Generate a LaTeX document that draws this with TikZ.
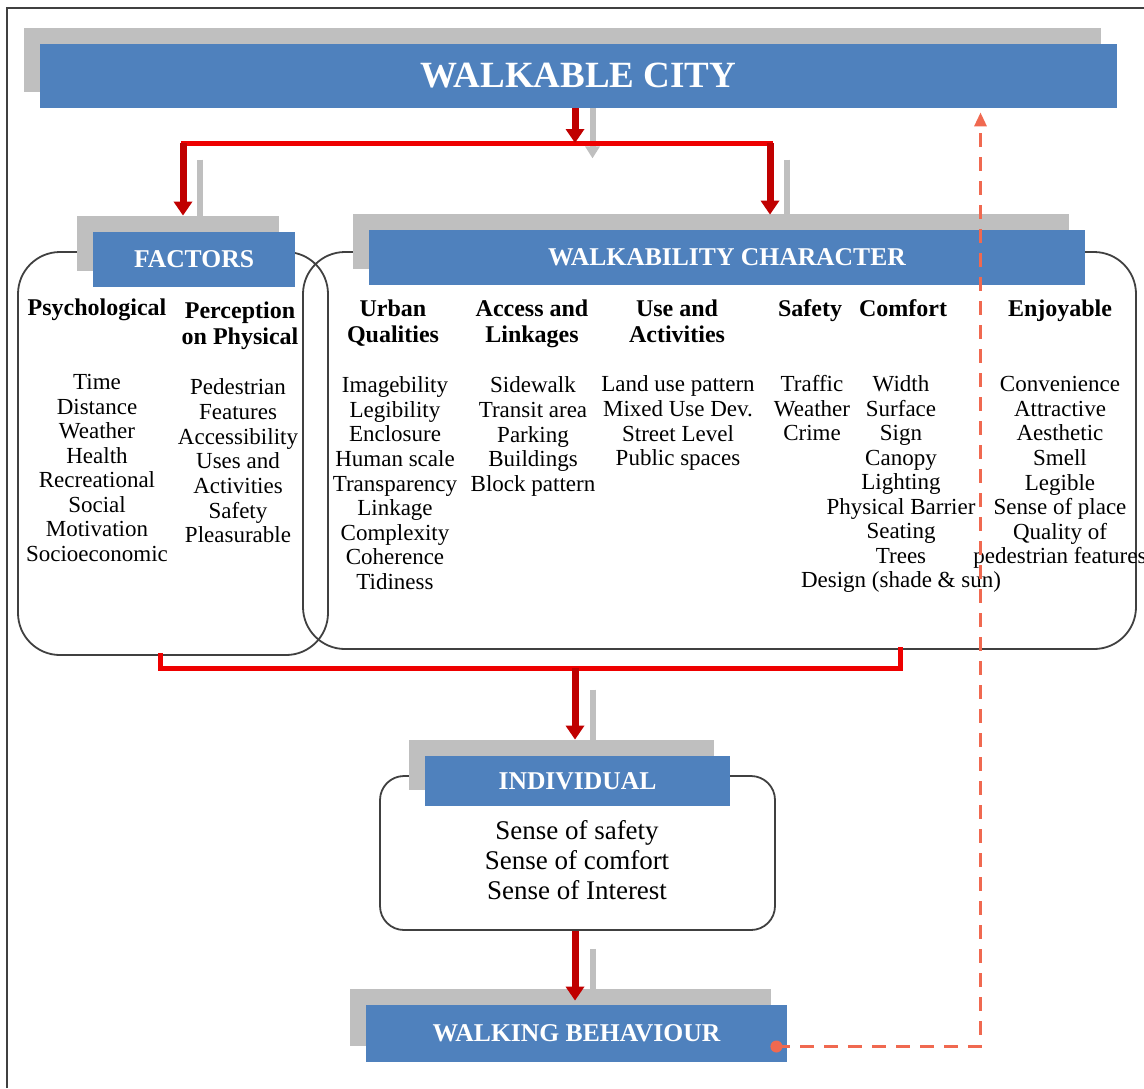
\documentclass[tikz,border=0pt]{standalone}
\usepackage{fontspec}
\setmainfont{Liberation Serif}
\usetikzlibrary{arrows.meta,shadows}
\definecolor{boxblue}{RGB}{79,129,189}
\definecolor{shadegray}{RGB}{191,191,191}
\definecolor{linered}{RGB}{238,0,0}
\definecolor{arrowred}{RGB}{192,0,0}
\definecolor{backred}{RGB}{240,105,80}
\definecolor{rim}{RGB}{64,64,64}
\tikzset{
  titlebox/.style={fill=boxblue,text=white,inner sep=0pt,
    font=\bfseries\fontsize{12.8}{14}\selectfont,
    general shadow={fill=shadegray,shadow xshift=-8pt,shadow yshift=8pt}},
  groupbox/.style={draw=rim,line width=0.9pt,rounded corners=21pt,inner sep=0pt},
  colhead/.style={anchor=mid,inner sep=0pt,font=\bfseries\fontsize{12}{13}\selectfont},
  colitem/.style={anchor=mid,inner sep=0pt,font=\fontsize{11.5}{12.3}\selectfont},
  redline/.style={draw=linered,line width=2.5pt,line cap=rect},
  redarr/.style={draw=arrowred,line width=3.5pt,-{Triangle[width=9pt,length=7pt]}},
  grayarr/.style={draw=shadegray,line width=3pt,-{Triangle[width=7pt,length=6pt]}},
  backarr/.style={draw=backred,line width=1.5pt,dash pattern=on 7pt off 5pt,-{Triangle[width=6pt,length=7pt]}}
}
\begin{document}
\begin{tikzpicture}[x=0.5pt,y=-0.5pt]
\useasboundingbox (0,0) rectangle (1144,1088);
\draw[rim,line width=1pt] (7,1088) |- (1144,8);
\node[groupbox,minimum width=155pt,minimum height=201.5pt] (fbox) at (173,453.5) {};
\node[groupbox,minimum width=416.5pt,minimum height=198.5pt] (cbox) at (719.5,450.5) {};
\node[groupbox,rounded corners=12pt,minimum width=197.5pt,minimum height=77pt] (ibox) at (577.5,853) {};
\node[titlebox,minimum width=538.5pt,minimum height=32pt,font=\bfseries\fontsize{18.5}{20}\selectfont] (city) at (578.5,76) {WALKABLE CITY};
\node[titlebox,minimum width=101pt,minimum height=27.5pt] (factors) at (194,259.5) {FACTORS};
\node[titlebox,minimum width=358pt,minimum height=27.5pt] (wchar) at (727,257.5) {WALKABILITY CHARACTER};
\node[titlebox,minimum width=152.5pt,minimum height=25pt] (indiv) at (577.5,781) {INDIVIDUAL};
\node[titlebox,minimum width=210.5pt,minimum height=28.5pt] (walk) at (576.5,1033.5) {WALKING BEHAVIOUR};
\foreach \l/\x/\y [count=\i] in
    { Psychological/97/311
    , Perception/240/314
    , on Physical/240/340
    , Urban/393/312
    , Qualities/393/338
    , Access and/532/312
    , Linkages/532/338
    , Use and/677/312
    , Activities/677/338
    , Safety/810/312
    , Comfort/903/312
    , Enjoyable/1060/312
    }
    {\node[colhead] (hd\i) at (\x,\y) {\l};}
\foreach \l [count=\y] in {Time,Distance,Weather,Health,Recreational,Social,Motivation,Socioeconomic}
    {\node[colitem] (psy\y) at (97,360.5+24.5*\y) {\l};}
\foreach \l [count=\y] in {Pedestrian,Features,Accessibility,Uses and,Activities,Safety,Pleasurable}
    {\node[colitem] (per\y) at (238,365.3+24.7*\y) {\l};}
\foreach \l [count=\y] in {Imagebility,Legibility,Enclosure,Human scale,Transparency,Linkage,Complexity,Coherence,Tidiness}
    {\node[colitem] (urb\y) at (395,363.4+24.6*\y) {\l};}
\foreach \l [count=\y] in {Sidewalk,Transit area,Parking,Buildings,Block pattern}
    {\node[colitem] (acc\y) at (533,363.3+24.7*\y) {\l};}
\foreach \l [count=\y] in {Land use pattern,Mixed Use Dev.,Street Level,Public spaces}
    {\node[colitem] (use\y) at (678,362.3+24.7*\y) {\l};}
\foreach \l [count=\y] in {Traffic,Weather,Crime}
    {\node[colitem] (saf\y) at (812,362.5+24.5*\y) {\l};}
\foreach \l [count=\y] in {Width,Surface,Sign,Canopy,Lighting,Physical Barrier,Seating,Trees,Design (shade \& sun)}
    {\node[colitem] (com\y) at (901,362.5+24.5*\y) {\l};}
\foreach \l [count=\y] in {Convenience,Attractive,Aesthetic,Smell,Legible,Sense of place,Quality of,pedestrian features}
    {\node[colitem] (enj\y) at (1060,362.4+24.6*\y) {\l};}
\foreach \l [count=\y] in {Sense of safety,Sense of comfort,Sense of Interest}
    {\node[colitem,font=\fontsize{13.5}{15}\selectfont] (sen\y) at (577,805+30*\y) {\l};}
\coordinate (split) at (575,143);
\coordinate (join) at (575,668);
\coordinate (fin) at ([xshift=-5.5pt,yshift=8pt]factors.north);
\coordinate (cin) at ([xshift=21.5pt,yshift=7.5pt]wchar.north);
\coordinate (fb) at ([xshift=-5.5pt,yshift=-6.5pt]walk.east);
\coordinate (ret) at ([xshift=201pt,yshift=-2pt]city.south);
\draw[grayarr] ([xshift=7pt]city.south) -- ([xshift=7pt,yshift=-25pt]city.south);
\draw[grayarr] ([xshift=3pt,yshift=36pt]factors.north) -- ([xshift=3pt]factors.north);
\draw[grayarr] ([xshift=30pt,yshift=35pt]wchar.north) -- ([xshift=30pt]wchar.north);
\draw[grayarr] ([xshift=7.5pt,yshift=33pt]indiv.north) -- ([xshift=7.5pt]indiv.north);
\draw[grayarr] ([xshift=7.5pt,yshift=-9pt]ibox.south) -- ([xshift=8pt]walk.north);
\draw[redline] (fin |- split) -- (cin |- split);
\draw[redarr] (city.south -| split) -- (split);
\draw[redarr] (fin |- split) -- (fin);
\draw[redarr] (cin |- split) -- (cin);
\draw[redline] ([xshift=-6.5pt]fbox.south) |- (join) -| ([xshift=90.25pt]cbox.south);
\draw[redarr] (join) -- ([xshift=-1.25pt,yshift=8pt]indiv.north);
\draw[redarr] ([xshift=-1.25pt]ibox.south) -- ([xshift=-0.75pt,yshift=2pt]walk.north);
\draw[backarr] (fb) -| (ret);
\fill[backred] (fb) circle (3pt);
\end{tikzpicture}
\end{document}
